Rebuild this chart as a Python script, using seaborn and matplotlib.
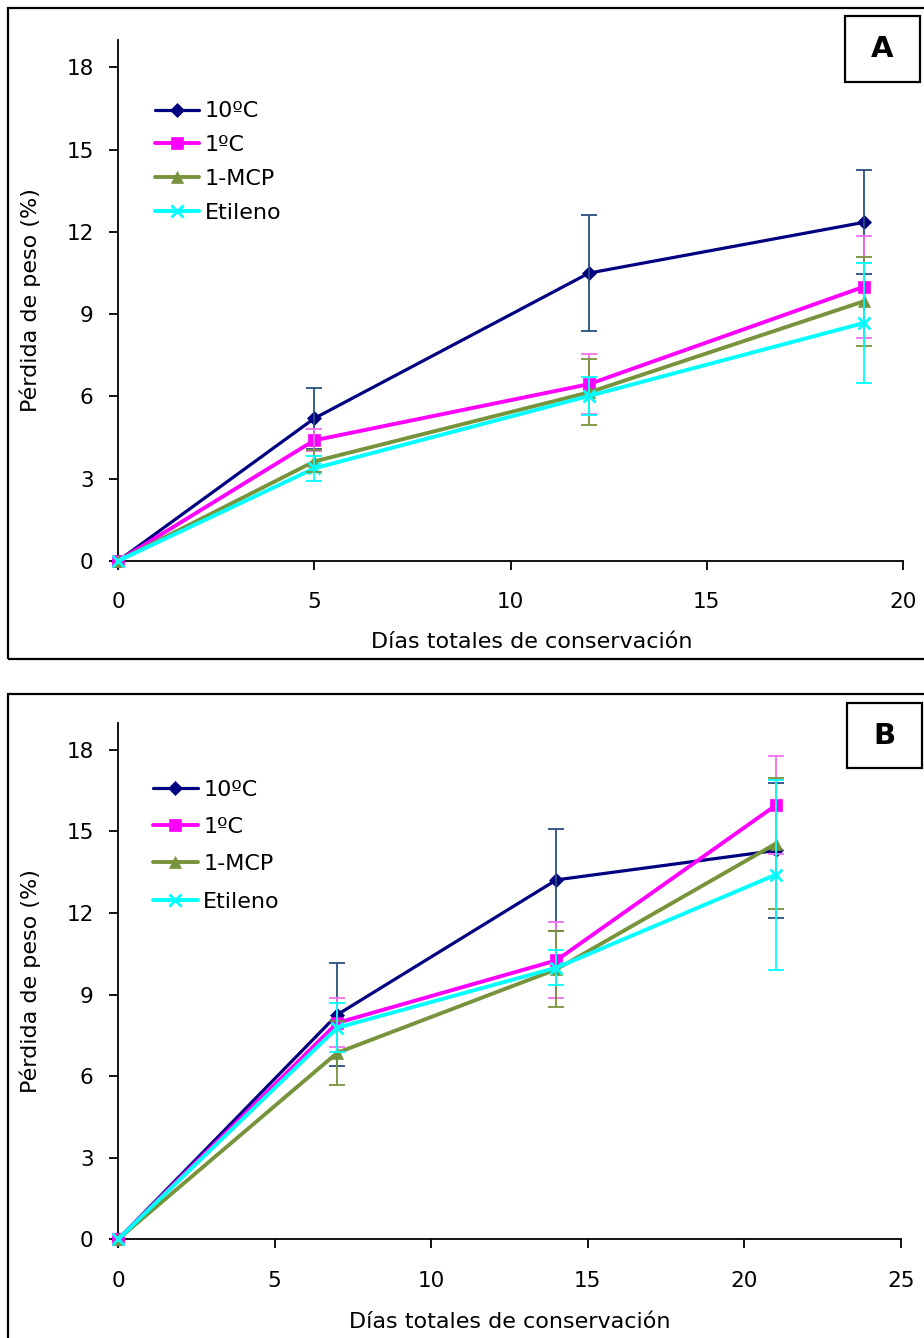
import numpy as np
import pandas as pd
import matplotlib
matplotlib.use("Agg")
import matplotlib.pyplot as plt
from matplotlib.patches import Rectangle
import seaborn as sns

# ---------------- data ----------------
series_names = ["10ºC", "1ºC", "1-MCP", "Etileno"]

days_A = [0, 5, 12, 19]
A_10 = [0, 5.2, 10.5, 12.35]
A_10_err = [0, 1.1, 2.1, 1.9]
A_1 = [0, 4.4, 6.45, 10.0]
A_1_err = [0, 0.4, 1.1, 1.85]
A_mcp = [0, 3.63, 6.15, 9.47]
A_mcp_err = [0, 0.4, 1.2, 1.63]
A_et = [0, 3.38, 6.02, 8.68]
A_et_err = [0, 0.45, 0.7, 2.18]

days_B = [0, 7, 14, 21]
B_10 = [0, 8.26, 13.22, 14.3]
B_10_err = [0, 1.9, 1.87, 2.47]
B_1 = [0, 7.96, 10.26, 15.96]
B_1_err = [0, 0.9, 1.4, 1.8]
B_mcp = [0, 6.86, 9.93, 14.55]
B_mcp_err = [0, 1.17, 1.4, 2.4]
B_et = [0, 7.78, 9.99, 13.41]
B_et_err = [0, 0.9, 0.65, 3.5]

yticks = [0, 3, 6, 9, 12, 15, 18]
xticks_A = [0, 5, 10, 15, 20]
xticks_B = [0, 5, 10, 15, 20, 25]

xlabel = "Días totales de conservación"
ylabel = "Pérdida de peso (%)"

# ---------------- style ----------------
sns.set_theme(style="white")
plt.rcParams["font.family"] = ["DejaVu Sans"]

line_colors = ["#000080", "#FF00FF", "#77933C", "#00FFFF"]
err_colors = ["#2A4F80", "#F070F0", "#77933C", "#00FFFF"]
markers = ["D", "s", "^", "x"]
msizes = [7.5, 8.5, 9, 9]
lwidths = [2.3, 2.8, 2.8, 2.8]

W, H = 924, 1338
fig = plt.figure(figsize=(W / 100, H / 100), dpi=100)


def fx(px):
    return px / W


def fy(py):
    return 1 - py / H


def make_panel(l, r, top, bottom, days, ys, errs, xlim, xticks, letter, box,
               frame, leg_anchor, leg_spacing, xlab_x, xlab_y):
    # outer frame
    fl, ft, fr, fb = frame
    fig.patches.append(Rectangle((fx(fl), fy(fb)), fx(fr - fl), (fb - ft) / H,
                                 transform=fig.transFigure, fill=False,
                                 edgecolor="black", linewidth=1.6, zorder=0))
    ax = fig.add_axes([fx(l), fy(bottom), fx(r - l), (bottom - top) / H])
    for i, name in enumerate(series_names):
        df = pd.DataFrame({"x": days, "y": ys[i]})
        sns.lineplot(data=df, x="x", y="y", ax=ax, color=line_colors[i],
                     marker=markers[i], markersize=msizes[i], linewidth=lwidths[i],
                     markeredgecolor=line_colors[i],
                     markeredgewidth=2 if markers[i] == "x" else 0.5,
                     label=name, clip_on=False, zorder=3, estimator=None)
        e = np.array(errs[i])
        xx = np.array(days)[e > 0]
        yy = np.array(ys[i])[e > 0]
        ax.errorbar(xx, yy, yerr=e[e > 0], fmt="none", ecolor=err_colors[i],
                    elinewidth=1.3, capsize=5.5, capthick=1.3, zorder=4)
    ax.set_xlim(*xlim)
    ax.set_ylim(0, 19)
    ax.set_xticks(xticks)
    ax.set_yticks(yticks)
    for s in ["top", "right"]:
        ax.spines[s].set_visible(False)
    for s in ["left", "bottom"]:
        ax.spines[s].set_color("black")
        ax.spines[s].set_linewidth(1.3)
    ax.tick_params(axis="both", direction="out", length=6.5, width=1.3,
                   color="black", labelsize=15.5, labelcolor="black",
                   left=True, bottom=True)
    ax.tick_params(axis="x", pad=16)
    ax.tick_params(axis="y", pad=11)
    ax.set_xlabel(xlabel, fontsize=16, color="black")
    ax.set_ylabel(ylabel, fontsize=16, color="black")
    ax.xaxis.set_label_coords(xlab_x, xlab_y)
    ax.yaxis.set_label_coords(-0.098, 0.5)
    ax.grid(False)
    leg = ax.legend(loc="upper left", bbox_to_anchor=leg_anchor, frameon=False,
                    fontsize=16, handlelength=2.0, handletextpad=0.25,
                    labelspacing=leg_spacing, borderpad=0, borderaxespad=0)
    for t in leg.get_texts():
        t.set_color("black")
    # letter box
    bl, bt, br, bb = box
    fig.patches.append(Rectangle((fx(bl), fy(bb)), fx(br - bl), (bb - bt) / H,
                                 transform=fig.transFigure, fill=False,
                                 edgecolor="black", linewidth=1.6, zorder=5))
    fig.text(fx((bl + br) / 2), fy((bt + bb) / 2), letter, ha="center",
             va="center", fontsize=21, fontweight="bold", color="black")
    return ax


make_panel(118, 903, 40, 561, days_A, [A_10, A_1, A_mcp, A_et],
           [A_10_err, A_1_err, A_mcp_err, A_et_err], (0, 20), xticks_A,
           "A", (845, 16, 920, 82), (8, 8, 960, 659), (0.047, 0.882), 0.62,
           0.527, -0.136)
make_panel(118, 901, 722.7, 1239.3, days_B, [B_10, B_1, B_mcp, B_et],
           [B_10_err, B_1_err, B_mcp_err, B_et_err], (0, 25), xticks_B,
           "B", (847, 703, 922, 768), (8, 694, 960, 1345), (0.045, 0.89), 0.78,
           0.5, -0.14)

fig.savefig("out.png", dpi=100, facecolor="white")
